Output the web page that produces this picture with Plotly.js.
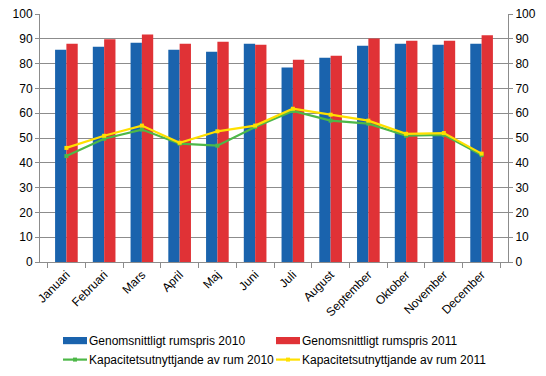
<!DOCTYPE html>
<html><head><meta charset="utf-8">
<script src="https://cdn.plot.ly/plotly-3.0.1.min.js"></script>
<style>html,body{margin:0;padding:0;background:#fff}#c{width:546px;height:376px}
#c .legend .scrollbox{clip-path:none !important}
</style>
</head><body><div id="c"></div>
<script>
const months = ["Januari","Februari","Mars","April","Maj","Juni","Juli","August","September","Oktober","November","December"];
const pris2010 = [85.6,86.8,88.4,85.6,84.8,88.0,78.4,82.4,87.2,88.0,87.6,88.0];
const pris2011 = [88.0,89.8,91.7,88.0,88.8,87.6,81.6,83.2,90.1,89.2,89.2,91.4];
const kap2010 = [42.7,49.7,53.4,47.7,46.9,54.4,60.9,57.0,55.8,50.9,51.3,43.1];
const kap2011 = [46.0,50.9,55.0,48.1,52.7,55.0,61.8,59.4,57.0,51.7,52.0,43.7];
const yTicks = [0,10,20,30,40,50,60,70,80,90,100];

const font = {family:"Liberation Sans, Arial, sans-serif", size:12, color:"#000"};
const traces = [
  {type:"bar", x:months, y:pris2010, name:"Genomsnittligt rumspris 2010", marker:{color:"#1a63ad"}},
  {type:"bar", x:months, y:pris2011, name:"Genomsnittligt rumspris 2011", marker:{color:"#e03236"}},
  {type:"scatter", mode:"lines+markers", x:months, y:kap2010, yaxis:"y2", name:"Kapacitetsutnyttjande av rum 2010",
   line:{color:"#4db848", width:2.2}, marker:{symbol:"square", size:4, color:"#4db848"}},
  {type:"scatter", mode:"lines+markers", x:months, y:kap2011, yaxis:"y2", name:"Kapacitetsutnyttjande av rum 2011",
   line:{color:"#ffe000", width:2.2}, marker:{symbol:"square", size:4, color:"#ffe000"}}
];
const yax = {range:[0,100], tickvals:yTicks, showgrid:true, gridcolor:"#8c8c8c", gridwidth:1,
  showline:true, linecolor:"#8c8c8c", linewidth:1, ticks:"outside", ticklen:4, tickcolor:"#8c8c8c",
  zeroline:false, tickfont:font, fixedrange:true, automargin:false};
const layout = {
  width:546, height:376, margin:{l:40, r:38, t:14, b:114, autoexpand:false},
  paper_bgcolor:"#fff", plot_bgcolor:"#fff", font:font,
  barmode:"group", bargap:0.40, bargroupgap:0,
  xaxis:{type:"category", tickangle:-45, ticks:"outside", tickson:"boundaries", ticklen:5, tickcolor:"#8c8c8c",
    showline:true, linecolor:"#8c8c8c", showgrid:false, tickfont:font, automargin:false},
  yaxis:Object.assign({}, yax, {side:"left"}),
  yaxis2:Object.assign({}, yax, {side:"right", overlaying:"y", showgrid:false}),
  showlegend:true,
  legend:{orientation:"h", x:0.0192, xanchor:"left", y:-0.452, yanchor:"bottom", entrywidth:168, entrywidthmode:"pixels",
    font:font, itemwidth:30, tracegroupgap:0, traceorder:"normal", bgcolor:"rgba(0,0,0,0)"}
};
function tweakLegend(gd){
  const items = gd.querySelectorAll(".legend .traces");
  items.forEach(function(t, i){
    if (i < 2) {
      t.querySelectorAll(".legendpoints path").forEach(function(p){ p.setAttribute("d","M18,3.6H-6V-3.6H18Z"); });
    } else {
      t.querySelectorAll(".legendlines path").forEach(function(p){ p.setAttribute("d","M14,0h24"); });
      t.querySelectorAll(".legendpoints path").forEach(function(p){ p.setAttribute("transform","translate(26,0)"); });
    }
  });
}
Plotly.newPlot("c", traces, layout, {displayModeBar:false, staticPlot:true}).then(function(gd){
  tweakLegend(gd);
  gd.on("plotly_afterplot", function(){ tweakLegend(gd); });
});
</script></body></html>
